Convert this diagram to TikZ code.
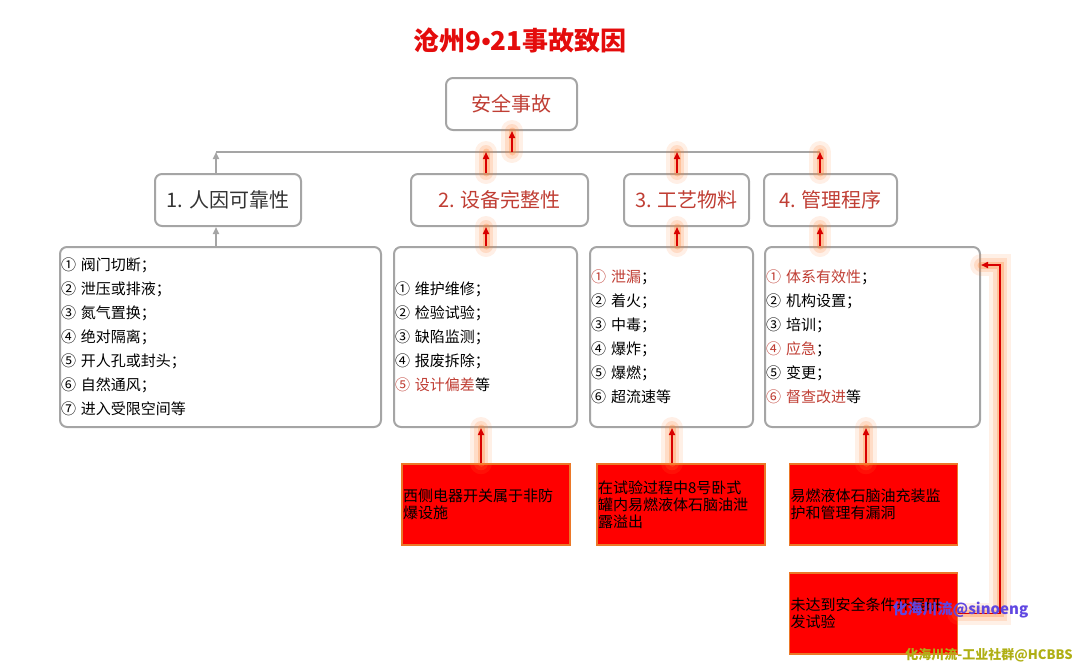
\documentclass[tikz,border=0pt]{standalone}
\usepackage{fontspec}
\setmainfont{Noto Sans CJK SC}
\newfontfamily\latinfont{Liberation Sans}
\usetikzlibrary{calc,arrows.meta}
\definecolor{lbl}{RGB}{192,62,52}
\definecolor{ttl}{RGB}{228,12,12}
\definecolor{boxgray}{RGB}{165,165,165}
\definecolor{glowc}{RGB}{255,130,50}
\definecolor{edge}{RGB}{235,120,40}

\begin{document}
\begin{tikzpicture}[x=1pt,y=-1pt,
  box/.style={draw=boxgray,line width=2pt,rounded corners=7pt,fill=white},
  lvl/.style={box,minimum height=52pt,text=lbl,font=\fontsize{20}{24}\selectfont},
  list/.style={box,minimum height=180pt,align=left,inner xsep=1pt,font=\fontsize{15}{24}\selectfont},
  cause/.style={draw=edge,line width=1.5pt,fill=red,align=left,text width=166pt,minimum height=81pt,inner xsep=1pt,font=\fontsize{15}{17}\selectfont},
  glow/.style={preaction={draw=glowc,line width=22pt,opacity=0.12,line cap=round,-},
               preaction={draw=glowc,line width=14pt,opacity=0.18,line cap=round,-},
               preaction={draw=glowc,line width=7pt,opacity=0.3,line cap=round,-}},
  redarr/.style={glow,draw=red!85!black,line width=1.6pt,-{Triangle[length=7pt,width=6pt]}},
  grayarr/.style={draw=boxgray,line width=1.6pt,-{Triangle[length=7pt,width=6pt]}}]
\useasboundingbox (0,0) rectangle (1077,670);

% title and top level
\node[font=\fontsize{26}{30}\selectfont\bfseries,text=ttl] (title) at (520,40) {沧州9{\latinfont\bfseries •}21事故致因};
\node[lvl,minimum width=131pt] (acc) at (511.5,104) {安全事故};

% second level
\node[lvl,minimum width=146pt,text=black!80] (h1) at (228,200) {1. 人因可靠性};
\node[lvl,minimum width=177pt] (h2) at (499.5,200) {2. 设备完整性};
\node[lvl,minimum width=125pt] (h3) at (686.5,200) {3. 工艺物料};
\node[lvl,minimum width=133pt] (h4) at (830.5,200) {4. 管理程序};

% lists
\node[list,text width=319pt] (l1) at (220.5,337) {① 阀门切断；\\② 泄压或排液；\\③ 氮气置换；\\④ 绝对隔离；\\⑤ 开人孔或封头；\\⑥ 自然通风；\\⑦ 进入受限空间等};
\node[list,text width=181pt] (l2) at (485.5,337) {① 维护维修；\\② 检验试验；\\③ 缺陷监测；\\④ 报废拆除；\\\textcolor{lbl}{⑤ 设计偏差}等};
\node[list,text width=161pt] (l3) at (671.5,337) {\textcolor{lbl}{① 泄漏}；\\② 着火；\\③ 中毒；\\④ 爆炸；\\⑤ 爆燃；\\⑥ 超流速等};
\node[list,text width=213pt] (l4) at (872.5,337) {\textcolor{lbl}{① 体系有效性}；\\② 机构设置；\\③ 培训；\\\textcolor{lbl}{④ 应急}；\\⑤ 变更；\\\textcolor{lbl}{⑥ 督查改进}等};

% causes
\node[cause] (r1) at (486,504.5) {西侧电器开关属于非防\\爆设施};
\node[cause] (r2) at (681,504.5) {在试验过程中8号卧式\\罐内易燃液体石脑油泄\\露溢出};
\node[cause] (r3) at (873.5,504.5) {易燃液体石脑油充装监\\护和管理有漏洞};
\node[cause] (r4) at (873.5,613.5) {未达到安全条件开展研\\发试验};

% bus
\coordinate (j1) at (216,152); \coordinate (j2) at (486,152); \coordinate (j3) at (677,152);
\coordinate (j4) at (820,152); \coordinate (jt) at (512,152);
\draw[boxgray,line width=1.6pt] (j1) -- (j4);
\draw[redarr] (jt) -- (acc.south -| jt);
\draw[grayarr] (h1.north -| j1) -- (j1);
\draw[redarr] (h2.north -| j2) -- (j2);
\draw[redarr] (h3.north -| j3) -- (j3);
\draw[redarr] (h4.north -| j4) -- (j4);

\draw[grayarr] (l1.north -| j1) -- (h1.south -| j1);
\draw[redarr] (l2.north -| j2) -- (h2.south -| j2);
\draw[redarr] (l3.north -| j3) -- (h3.south -| j3);
\draw[redarr] (l4.north -| j4) -- (h4.south -| j4);

\path ($(r1.north)+(-5,0)$) coordinate (s1) ($(r2.north)+(-9,0)$) coordinate (s2) ($(r3.north)+(-7.5,0)$) coordinate (s3);
\draw[redarr] (s1) -- (s1 |- l2.south);
\draw[redarr] (s2) -- (s2 |- l3.south);
\draw[redarr] (s3) -- (s3 |- l4.south);
\coordinate (fb) at (1000,265);
\draw[redarr] (r4.east) -| (fb) -- (fb -| l4.east);

% watermarks
\node[font=\fontsize{15}{18}\selectfont\bfseries,text={rgb,255:red,95;green,70;blue,225}] (wm1) at (960.5,610) {化海川流@sinoeng};
\node[font=\fontsize{13}{16}\selectfont\bfseries,text={rgb,255:red,175;green,175;blue,20}] (wm2) at (989,655.5) {化海川流-工业社群@HCBBS};
\end{tikzpicture}
\end{document}
